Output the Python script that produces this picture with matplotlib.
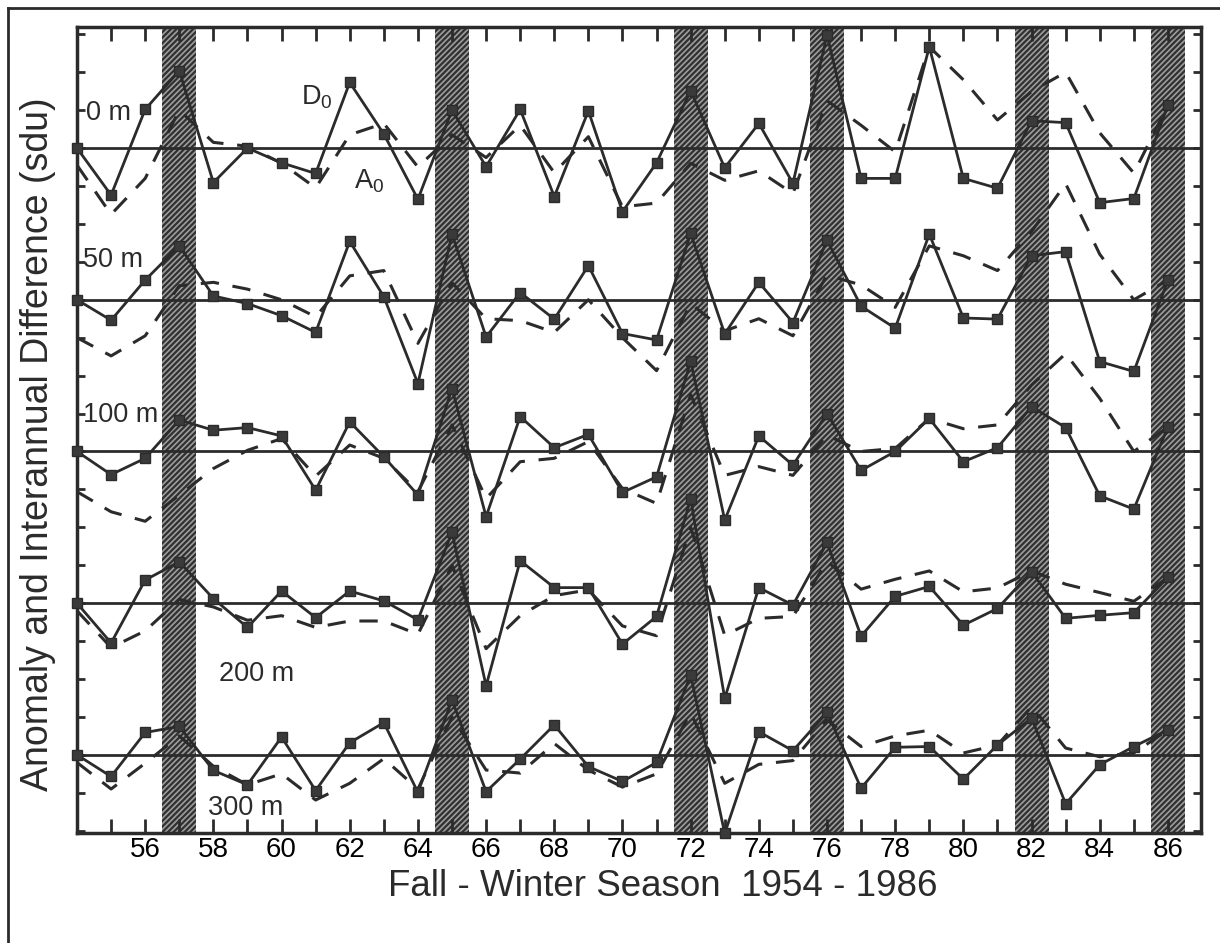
import matplotlib
matplotlib.use("Agg")
import matplotlib.pyplot as plt
from matplotlib.lines import Line2D
from matplotlib import font_manager
import numpy as np

plt.rcParams['font.family'] = ['Liberation Sans', 'DejaVu Sans']
plt.rcParams['mathtext.fontset'] = 'custom'
plt.rcParams['mathtext.rm'] = 'Liberation Sans'
plt.rcParams['mathtext.it'] = 'Liberation Sans'
plt.rcParams['hatch.linewidth'] = 1.6

years = list(range(54, 87))
event_years = [57, 65, 72, 76, 82, 86]
depth_labels = ["0 m", "50 m", "100 m", "200 m", "300 m"]
level_offsets = [0, -4, -8, -12, -16]

d0_0m = [0.0, -1.24, 1.02, 2.04, -0.91, 0.0, -0.39, -0.67, 1.73, 0.37, -1.35, 1.0,
         -0.49, 1.02, -1.28, 0.98, -1.68, -0.39, 1.51, -0.52, 0.65, -0.93, 2.98,
         -0.8, -0.8, 2.67, -0.8, -1.06, 0.72, 0.67, -1.44, -1.33, 1.13]
a0_0m = [-0.45, -1.75, -0.8, 1.0, 0.15, 0.05, -0.4, -1.05, 0.35, 0.65, -0.5, 0.35,
         -0.25, 0.6, -0.65, 0.3, -1.55, -1.45, -0.4, -0.85, -0.6, -1.2, 1.25,
         0.6, -0.1, 2.67, 1.8, 0.74, 1.49, 2.0, 0.4, -0.66, 1.13]

d0_50m = [0.0, -0.54, 0.52, 1.42, 0.1, -0.1, -0.42, -0.86, 1.54, 0.08, -2.21, 1.73,
          -0.98, 0.19, -0.51, 0.9, -0.89, -1.06, 1.75, -0.9, 0.46, -0.6, 1.57,
          -0.17, -0.75, 1.73, -0.48, -0.51, 1.16, 1.27, -1.63, -1.89, 0.52]
a0_50m = [-1.0, -1.48, -0.95, 0.37, 0.46, 0.28, 0.0, -0.45, 0.63, 0.77, -1.15, 0.45,
          -0.5, -0.55, -0.86, 0.0, -1.0, -1.87, -0.1, -0.82, -0.5, -0.95, 0.65,
          0.39, -0.2, 1.42, 1.16, 0.77, 1.8, 3.06, 1.2, 0.0, 0.52]

d0_100m = [0.0, -0.61, -0.18, 0.83, 0.56, 0.63, 0.41, -1.02, 0.78, -0.14, -1.15, 1.66,
           -1.72, 0.92, 0.1, 0.45, -1.08, -0.67, 2.38, -1.81, 0.41, -0.36, 1.0,
           -0.5, 0.0, 0.87, -0.27, 0.1, 1.18, 0.63, -1.17, -1.52, 0.65]
a0_100m = [-1.06, -1.59, -1.84, -1.15, -0.45, 0.03, 0.34, -0.65, 0.17, -0.18, -1.06, 0.7,
           -1.24, -0.27, -0.18, 0.26, -0.98, -1.37, 1.5, -0.63, -0.4, -0.63, 0.43,
           0.0, 0.08, 0.87, 0.6, 0.7, 1.75, 2.58, 1.4, 0.0, 0.65]

d0_200m = [0.0, -1.05, 0.61, 1.09, 0.12, -0.64, 0.32, -0.38, 0.32, 0.06, -0.44, 1.87,
           -2.18, 1.12, 0.41, 0.41, -1.08, -0.35, 2.75, -2.51, 0.41, -0.05, 1.6,
           -0.87, 0.18, 0.44, -0.58, -0.14, 0.83, -0.4, -0.32, -0.25, 0.68]
a0_200m = [-0.2, -1.17, -0.73, 0.1, -0.1, -0.45, -0.33, -0.64, -0.47, -0.47, -0.82, 1.0,
           -1.2, -0.33, 0.2, 0.35, -0.6, -0.86, 2.0, -0.85, -0.4, -0.35, 1.1,
           0.37, 0.63, 0.85, 0.3, 0.4, 0.85, 0.5, 0.28, 0.05, 0.68]

d0_300m = [0.0, -0.57, 0.59, 0.75, -0.41, -0.79, 0.47, -0.94, 0.32, 0.85, -0.99, 1.45,
           -0.97, -0.11, 0.79, -0.31, -0.7, -0.2, 2.11, -2.07, 0.61, 0.11, 1.12,
           -0.88, 0.2, 0.22, -0.64, 0.26, 0.97, -1.29, -0.26, 0.22, 0.66]
a0_300m = [-0.2, -0.9, -0.22, 0.5, -0.3, -0.79, -0.5, -1.19, -0.75, -0.1, -0.9, 1.0,
           -0.4, -0.48, 0.3, -0.4, -0.85, -0.5, 1.1, -0.75, -0.25, -0.15, 0.92,
           0.22, 0.5, 0.65, 0.05, 0.26, 1.27, 0.18, -0.05, 0.05, 0.66]

d0_series = [d0_0m, d0_50m, d0_100m, d0_200m, d0_300m]
a0_series = [a0_0m, a0_50m, a0_100m, a0_200m, a0_300m]

installed = {f.name for f in font_manager.fontManager.ttflist}
tick_family = ['Liberation Sans Narrow'] if 'Liberation Sans Narrow' in installed else ['Liberation Sans']

W, H = 1220, 943
fig = plt.figure(figsize=(W / 100, H / 100), dpi=100)
ax = fig.add_axes([77 / W, 1 - 833 / H, (1201 - 77) / W, (833 - 26.7) / H])

ink = '#2b2b2b'

for ey in event_years:
    ax.axvspan(ey - 0.5, ey + 0.5, facecolor='#9c9c9c', edgecolor='#303030',
               hatch='//////', linewidth=0, zorder=1)

yrs = np.array(years)
for off, d0, a0 in zip(level_offsets, d0_series, a0_series):
    ax.axhline(off, color=ink, lw=2.0, zorder=2)
    ax.plot(yrs, np.array(a0) + off, color=ink, lw=2.2, ls=(0, (6, 4.5)),
            zorder=3)
    ax.plot(yrs, np.array(d0) + off, color=ink, lw=2.0, marker='s', ms=7.5,
            mec=ink, mfc='#3a3a3a', zorder=4, clip_on=False)

ax.set_xlim(54.04, 86.97)
ax.set_ylim(-18.06, 3.2)

ax.set_xticks(years, minor=True)
ax.set_xticks(list(range(56, 87, 2)))
ax.set_xticklabels([str(v) for v in range(56, 87, 2)], fontsize=20,
                   family=tick_family)
ax.set_yticks(list(range(-18, 4)))
ax.set_yticklabels([])
ax.tick_params(axis='x', which='both', direction='in', top=True, bottom=True,
               length=10, width=2, color=ink, pad=3)
ax.tick_params(axis='y', which='both', direction='in', left=True, right=True,
               length=6, width=2, color=ink)
for sp in ax.spines.values():
    sp.set_linewidth(2.5)
    sp.set_color(ink)

label_kw = dict(fontsize=19.5, color=ink, va='center', ha='left', zorder=6)
ax.text(54.27, 0.92, depth_labels[0], **label_kw)
ax.text(54.18, -2.95, depth_labels[1], **label_kw)
ax.text(54.18, -7.04, depth_labels[2], **label_kw)
ax.text(58.17, -13.86, depth_labels[3], **label_kw)
ax.text(57.85, -17.4, depth_labels[4], **label_kw)
ax.text(60.57, 1.34, r'D$_{\mathrm{0}}$', **label_kw)
ax.text(62.13, -0.87, r'A$_{\mathrm{0}}$', **label_kw)

fig.text(38 / W, 1 - 444 / H, 'Anomaly and Interannual Difference (sdu)',
         rotation=90, ha='center', va='center', fontsize=27, color=ink)
fig.text(663 / W, 1 - 886 / H, 'Fall - Winter Season  1954 - 1986',
         ha='center', va='center', fontsize=26.5, color=ink)

# outer frame of the figure (top and left edges visible)
x_b = 7.5 / W
y_b = 1 - 7.5 / H
fig.add_artist(Line2D([x_b, 1.0], [y_b, y_b], transform=fig.transFigure,
                      color=ink, lw=2.0))
fig.add_artist(Line2D([x_b, x_b], [0.0, y_b], transform=fig.transFigure,
                      color=ink, lw=2.0))

fig.savefig('out.png', dpi=100)
